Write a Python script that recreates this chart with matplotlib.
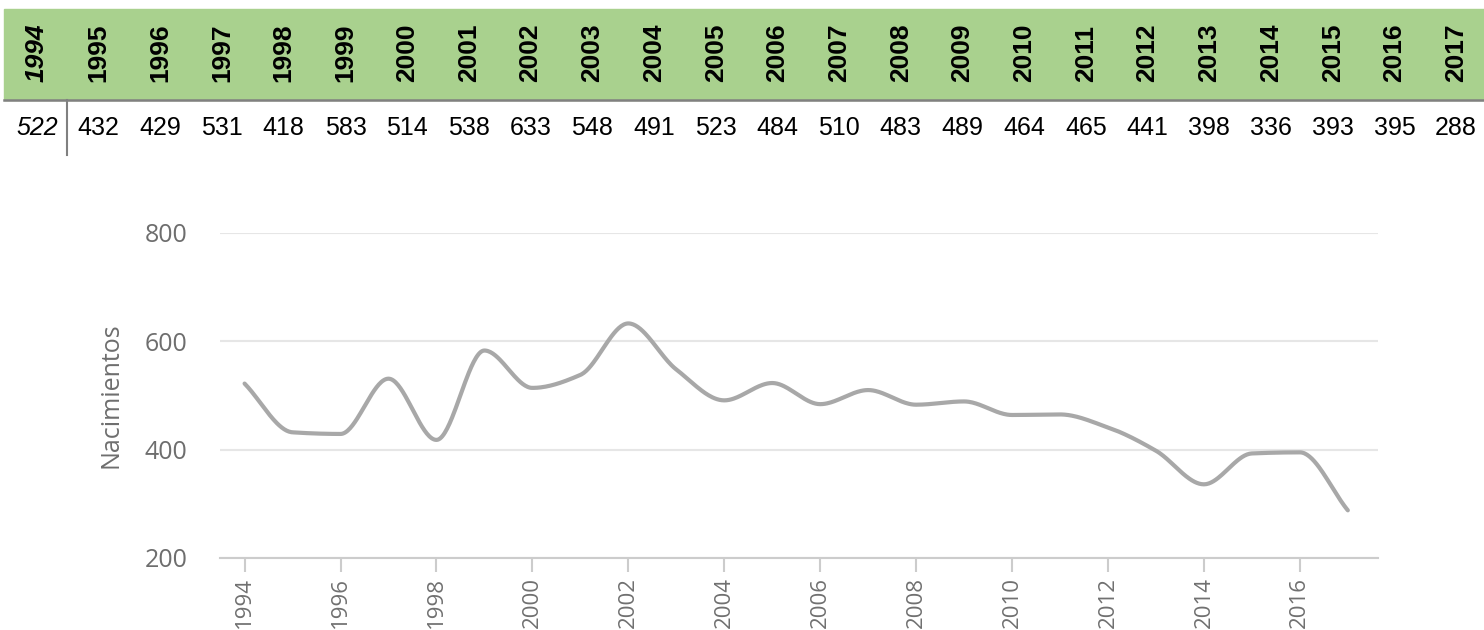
import numpy as np
import matplotlib
matplotlib.use("Agg")
import matplotlib.pyplot as plt
from matplotlib.patches import Rectangle

years = list(range(1994, 2018))
births = [522, 432, 429, 531, 418, 583, 514, 538, 633, 548, 491, 523,
          484, 510, 483, 489, 464, 465, 441, 398, 336, 393, 395, 288]
yticks = [200, 400, 600, 800]
xticks = list(range(1994, 2017, 2))


def monotone_curve(x, y, n=40):
    # Fritsch-Carlson monotone cubic, only used to draw the smooth line
    x = np.asarray(x, float)
    y = np.asarray(y, float)
    h = np.diff(x)
    d = np.diff(y) / h
    m = np.zeros_like(y)
    m[0], m[-1] = d[0], d[-1]
    for k in range(1, len(y) - 1):
        if d[k - 1] * d[k] <= 0:
            m[k] = 0
        else:
            w1 = 2 * h[k] + h[k - 1]
            w2 = h[k] + 2 * h[k - 1]
            m[k] = (w1 + w2) / (w1 / d[k - 1] + w2 / d[k])
    xs, ys = [], []
    for k in range(len(h)):
        t = np.linspace(0, 1, n, endpoint=False)
        h00 = 2 * t**3 - 3 * t**2 + 1
        h10 = t**3 - 2 * t**2 + t
        h01 = -2 * t**3 + 3 * t**2
        h11 = t**3 - t**2
        xs.append(x[k] + t * h[k])
        ys.append(h00 * y[k] + h10 * h[k] * m[k] + h01 * y[k + 1] + h11 * h[k] * m[k + 1])
    xs.append([x[-1]])
    ys.append([y[-1]])
    return np.concatenate(xs), np.concatenate(ys)


fig = plt.figure(figsize=(14.84, 6.3), dpi=100)

# ---- table on top (pixel coordinates) ----
tab = fig.add_axes([0, 0, 1, 1])
tab.set_xlim(0, 1484)
tab.set_ylim(630, 0)
tab.axis("off")
tab.add_patch(Rectangle((4, 9), 1480, 91, color="#a9d18e", zorder=1))
tab.plot([4, 1484], [100, 100], color="#808080", lw=1.8, zorder=2)
tab.plot([67, 67], [100, 155], color="#808080", lw=1.5, zorder=2)
narrow = ["Liberation Sans Narrow", "Liberation Sans", "DejaVu Sans"]
for i, (yr, v) in enumerate(zip(years, births)):
    cx = 37 + i * 61.7
    tab.text(cx, 53, str(yr), rotation=90, ha="center", va="center",
             fontsize=19, fontweight="bold", style="italic" if i == 0 else "normal",
             family=narrow, color="black", zorder=3)
    tab.text(cx, 128, str(v), ha="center", va="center", fontsize=18,
             style="italic" if i == 0 else "normal", family=narrow,
             color="black", zorder=3)

# ---- line chart ----
ax = fig.add_axes([0.148, 0.1143, 0.7806, 0.5159])
sx, sy = monotone_curve(years, births)
ax.plot(sx, sy, color="#a8a8a8", lw=3, solid_capstyle="round", zorder=3)
ax.set_xlim(1993.48, 2017.63)
ax.set_ylim(200, 800)
ax.set_yticks(yticks)
ax.set_xticks(xticks)
ax.grid(axis="y", color="#e6e6e6", lw=1.5)
ax.set_axisbelow(True)
for s in ["top", "right", "left"]:
    ax.spines[s].set_visible(False)
ax.spines["bottom"].set_color("#cccccc")
ax.spines["bottom"].set_linewidth(1.5)
ax.tick_params(axis="y", length=0, pad=23, labelsize=18, labelcolor="#6e6e6e")
ax.tick_params(axis="x", length=10, width=1.5, color="#cccccc", pad=4,
               labelsize=16, labelcolor="#707070", labelrotation=90)
for lab in ax.get_xticklabels() + ax.get_yticklabels():
    lab.set_family("Open Sans")
ax.set_ylabel("Nacimientos", fontsize=18, color="#6e6e6e", family="Open Sans")
ax.yaxis.set_label_coords(-0.083, 0.5)

fig.savefig("out.png", dpi=100)
